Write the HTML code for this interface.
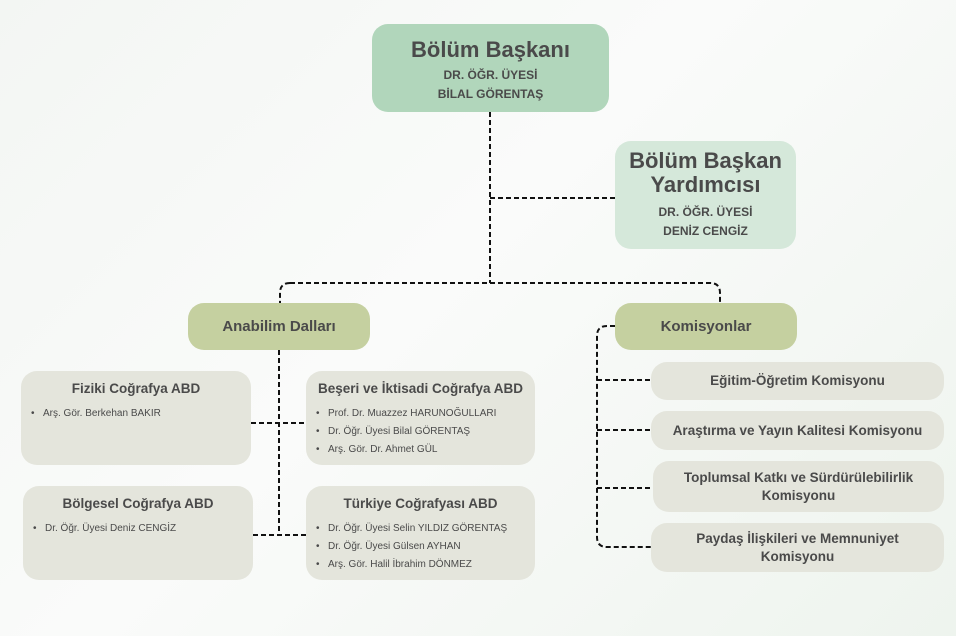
<!DOCTYPE html>
<html><head><meta charset="utf-8"><style>
*{margin:0;padding:0;box-sizing:border-box}
body{width:956px;height:636px;overflow:hidden;background:linear-gradient(135deg,#f3f6f3 0%,#fafbfa 45%,#eef4ee 100%);font-family:"Liberation Sans",sans-serif;color:#4a4a4a;position:relative}
.b{position:absolute;border-radius:16px;display:flex;flex-direction:column;align-items:center;justify-content:center;text-align:center;font-weight:bold}
.leaf{position:absolute;background:#e4e5dc;border-radius:16px;padding-top:10px}
.leaf h3{font-size:13.5px;text-align:center;margin-bottom:12px}
.leaf ul{list-style:none;font-size:10px;font-weight:normal;padding-left:10px}
.leaf li{margin-bottom:6px;height:12px;position:relative;padding-left:12px}
.leaf li:before{content:"•";position:absolute;left:0}
.com{position:absolute;background:#e4e5dc;border-radius:16px;display:flex;align-items:center;justify-content:center;text-align:center;font-weight:bold;font-size:13.5px;line-height:18px}
svg{position:absolute;left:0;top:0}
</style></head><body>
<svg width="956" height="636" fill="none" stroke="#111" stroke-width="2" stroke-dasharray="5,3">
<path d="M490 112 V283"/>
<path d="M490 198 H615"/>
<path d="M290 283 H710 Q720 283 720 293 V303"/>
<path d="M290 283 Q280 283 280 293 V303"/>
<path d="M279 350 V535"/>
<path d="M251 423 H306"/>
<path d="M253 535 H306"/>
<path d="M615 326 H607 Q597 326 597 336 V537 Q597 547 607 547 H651"/>
<path d="M597 380 H651"/>
<path d="M597 430 H651"/>
<path d="M597 488 H653"/>
</svg>
<div class="b" style="left:372px;top:24px;width:237px;height:88px;background:#b1d6bb">
<div style="font-size:22px;margin-top:4px">Bölüm Başkanı</div>
<div style="font-size:12px;line-height:19px;margin-top:3px">DR. ÖĞR. ÜYESİ<br>BİLAL GÖRENTAŞ</div></div>
<div class="b" style="left:615px;top:141px;width:181px;height:108px;background:#d5e8da">
<div style="font-size:22px;line-height:24px">Bölüm Başkan<br>Yardımcısı</div>
<div style="font-size:12px;line-height:19px;margin-top:6px">DR. ÖĞR. ÜYESİ<br>DENİZ CENGİZ</div></div>
<div class="b" style="left:188px;top:303px;width:182px;height:47px;background:#c5d0a0;font-size:15px">Anabilim Dalları</div>
<div class="b" style="left:615px;top:303px;width:182px;height:47px;background:#c5d0a0;font-size:15px">Komisyonlar</div>
<div class="leaf" style="left:21px;top:371px;width:230px;height:94px"><h3>Fiziki Coğrafya ABD</h3><ul><li>Arş. Gör. Berkehan BAKIR</li></ul></div>
<div class="leaf" style="left:306px;top:371px;width:229px;height:94px"><h3>Beşeri ve İktisadi Coğrafya ABD</h3><ul><li>Prof. Dr. Muazzez HARUNOĞULLARI</li><li>Dr. Öğr. Üyesi Bilal GÖRENTAŞ</li><li>Arş. Gör. Dr. Ahmet GÜL</li></ul></div>
<div class="leaf" style="left:23px;top:486px;width:230px;height:94px"><h3>Bölgesel Coğrafya ABD</h3><ul><li>Dr. Öğr. Üyesi Deniz CENGİZ</li></ul></div>
<div class="leaf" style="left:306px;top:486px;width:229px;height:94px"><h3>Türkiye Coğrafyası ABD</h3><ul><li>Dr. Öğr. Üyesi Selin YILDIZ GÖRENTAŞ</li><li>Dr. Öğr. Üyesi Gülsen AYHAN</li><li>Arş. Gör. Halil İbrahim DÖNMEZ</li></ul></div>
<div class="com" style="left:651px;top:362px;width:293px;height:38px">Eğitim-Öğretim Komisyonu</div>
<div class="com" style="left:651px;top:411px;width:293px;height:39px">Araştırma ve Yayın Kalitesi Komisyonu</div>
<div class="com" style="left:653px;top:461px;width:291px;height:51px">Toplumsal Katkı ve Sürdürülebilirlik<br>Komisyonu</div>
<div class="com" style="left:651px;top:523px;width:293px;height:49px">Paydaş İlişkileri ve Memnuniyet<br>Komisyonu</div>
</body></html>
